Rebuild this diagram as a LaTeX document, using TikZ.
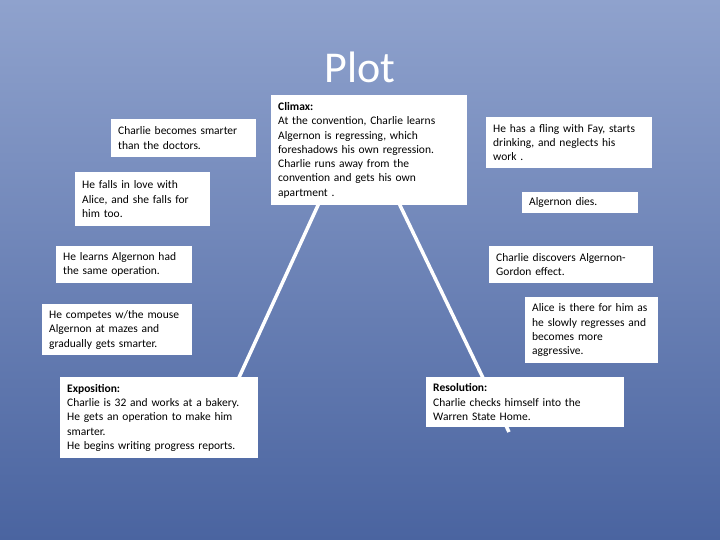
\documentclass[tikz,border=0pt]{standalone}
\usepackage{fontspec}
\setmainfont{Carlito}
\definecolor{bgtop}{HTML}{8FA2CD}
\definecolor{bgbot}{HTML}{4A64A0}
\begin{document}
\begin{tikzpicture}[x=1pt,y=-1pt,
  box/.style={fill=white, anchor=north west, inner xsep=7pt, inner ysep=3pt,
    align=left, font=\fontsize{11.5}{14.3}\selectfont},
  plotline/.style={draw=white, line width=3.5pt}]
\shade[top color=bgtop, bottom color=bgbot] (0,0) rectangle (720,540);
\useasboundingbox (0,0) rectangle (720,540);

\node[text=white, font=\fontsize{44}{50}\selectfont] (title) at (360,67) {Plot};

\coordinate (apex) at (358,118);
\coordinate (lend) at (214,432);
\coordinate (rend) at (509,432);
\draw[plotline] (lend) -- (apex) -- (rend);

\node[box, text width=182pt, minimum height=110pt] (climax) at (271,95)
  {\textbf{Climax:}\\At the convention, Charlie learns\\Algernon is regressing,  which\\foreshadows  his own regression.\\Charlie  runs away from the\\convention and gets his own\\apartment .};
\node[box, text width=131pt, minimum height=38pt] (smarter) at (111,119)
  {Charlie becomes smarter\\than the doctors.};
\node[box, text width=121pt, minimum height=54pt] (love) at (75,172)
  {He falls in love with\\Alice, and she falls for\\him too.};
\node[box, text width=122pt, minimum height=37pt] (learns) at (56,246)
  {He  learns Algernon had\\the same operation.};
\node[box, text width=136pt, minimum height=51pt] (competes) at (42,304)
  {He competes w/the mouse\\Algernon at mazes and\\gradually gets smarter.};
\node[box, text width=184pt, minimum height=81pt] (expo) at (60,377)
  {\textbf{Exposition:}\\Charlie is 32  and works at a bakery.\\He gets an operation to make him\\smarter.\\He begins writing progress reports.};
\node[box, text width=152pt, minimum height=51pt] (fling) at (486,117)
  {He has a fling with Fay, starts\\drinking,  and neglects his\\work .};
\node[box, text width=102pt, minimum height=21pt] (dies) at (522,192)
  {Algernon dies.};
\node[box, text width=150pt, minimum height=37pt] (discovers) at (489,246)
  {Charlie discovers Algernon-\\Gordon  effect.};
\node[box, text width=119pt, minimum height=66pt] (alice) at (525,297)
  {Alice is there for him as\\he slowly regresses and\\becomes more\\aggressive.};
\node[box, text width=184pt, minimum height=50pt] (resol) at (426,377)
  {\textbf{Resolution:}\\Charlie  checks himself into the\\Warren State Home.};
\end{tikzpicture}
\end{document}
